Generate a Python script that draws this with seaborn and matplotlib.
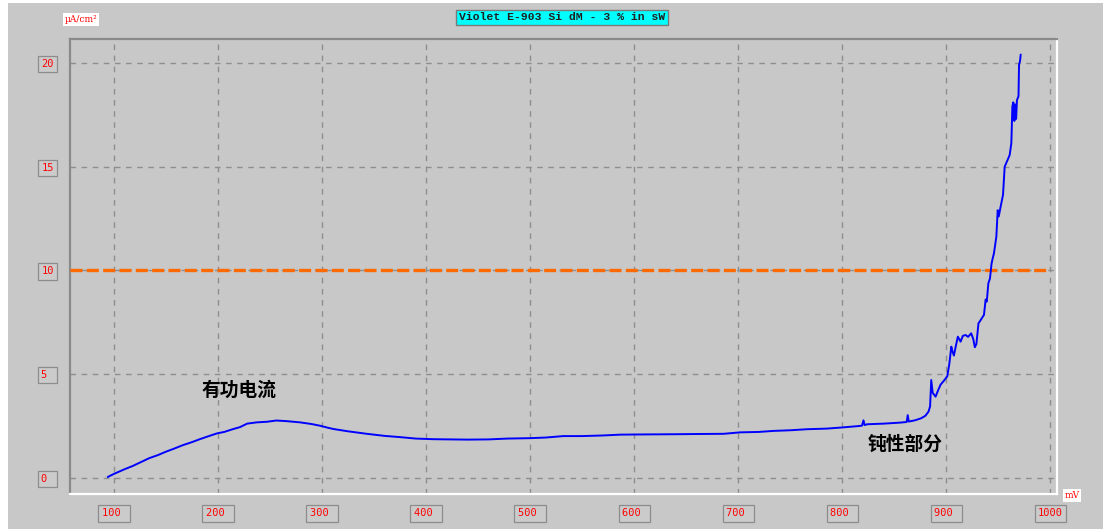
import numpy as np
import pandas as pd
import matplotlib
matplotlib.use("Agg")
import matplotlib.pyplot as plt
import seaborn as sns
from matplotlib.patches import Rectangle

# ---------------- data ----------------
voltage_mV = [94, 100, 110, 118, 126, 134, 142, 150, 158, 166, 175, 183, 190, 199, 206, 214,
              221, 228, 237, 247, 256, 266, 279, 290, 298, 305, 311, 325, 343, 360, 375, 390,
              407, 423, 440, 460, 478, 500, 515, 532, 550, 570, 587, 610, 640, 660, 686, 702,
              720, 734, 750, 766, 785, 801, 815, 819, 820.5, 821.5, 824, 840, 856, 862, 863,
              864, 870, 876, 880, 883, 884.5, 885.6, 887, 889.8, 892, 894.6, 898, 901, 903,
              904.9, 906, 907.4, 909, 911.2, 913.8, 916, 918.7, 921, 924, 926, 927.5, 929,
              931, 933, 936.3, 937.9, 939.0, 940.5, 942, 942.7, 943.5, 944.3, 945.9, 948.2,
              949.5, 950.5, 952.3, 954.6, 956.2, 958.8, 961, 962.6, 963.6, 964.5, 965.5,
              966.2, 967.2, 968, 969.5, 970, 971, 971.6]
current_uA = [0.05, 0.2, 0.42, 0.58, 0.77, 0.96, 1.1, 1.27, 1.42, 1.58, 1.73, 1.88, 2.0, 2.15,
              2.22, 2.35, 2.45, 2.62, 2.68, 2.71, 2.77, 2.74, 2.68, 2.6, 2.52, 2.43, 2.36,
              2.25, 2.13, 2.03, 1.97, 1.9, 1.87, 1.86, 1.85, 1.86, 1.9, 1.92, 1.95, 2.02,
              2.02, 2.05, 2.09, 2.1, 2.11, 2.12, 2.13, 2.2, 2.22, 2.27, 2.3, 2.35, 2.38,
              2.44, 2.5, 2.52, 2.78, 2.55, 2.59, 2.62, 2.67, 2.7, 3.03, 2.72, 2.78, 2.88,
              3.0, 3.2, 3.45, 4.72, 4.1, 3.92, 4.2, 4.5, 4.7, 4.9, 5.5, 6.33, 6.1, 5.9, 6.3,
              6.81, 6.57, 6.85, 6.89, 6.8, 6.97, 6.7, 6.3, 6.45, 7.45, 7.6, 7.86, 8.6, 8.5,
              9.38, 9.6, 9.9, 10.3, 10.5, 10.83, 11.63, 12.9, 12.6, 13.07, 13.64, 15.0,
              15.3, 15.56, 16.13, 17.9, 18.1, 17.2, 18.0, 17.3, 18.2, 18.4, 19.9, 20.1, 20.4]

x_ticks = [100, 200, 300, 400, 500, 600, 700, 800, 900, 1000]
y_ticks = [0, 5, 10, 15, 20]
x_tick_labels = ["100 ", "200 ", "300 ", "400 ", "500 ", "600 ", "700 ", "800 ", "900 ", "1000"]
y_tick_labels = ["0 ", "5 ", "10", "15", "20"]
limit_current = 10
limit_end_mV = 1000

title_text = "Violet E-903 Si dM - 3 % in sW"
y_unit = "µA/cm²"
x_unit = "mV"
label_active = "有功电流"
label_passive = "钝性部分"
label_active_pos = (220, 4.22)
label_passive_pos = (860, 1.61)

df = pd.DataFrame({"mV": voltage_mV, "uA": current_uA})

# ---------------- style ----------------
sns.set_style("white")
plt.rcParams['font.family'] = ['DejaVu Sans', 'Noto Sans CJK SC']

W, H = 1103, 529
BG = "#c8c8c8"
fig = plt.figure(figsize=(W / 100, H / 100), dpi=100, facecolor="white")
fig.patches.append(Rectangle((8 / W, 0), 1 - 8 / W, 1 - 3 / H, transform=fig.transFigure,
                             facecolor=BG, edgecolor="none", zorder=-10))

ax = fig.add_axes([70 / W, 1 - 494 / H, 987 / W, 455 / H])
ax.set_facecolor(BG)
ax.set_xlim(57.7, 1006.5)
ax.set_ylim(-0.77, 21.15)

# grid
ax.set_xticks(x_ticks)
ax.set_yticks(y_ticks)
ax.grid(True, color="#8e8e8e", linestyle=(0, (4, 4)), linewidth=1.0)
ax.set_axisbelow(True)

# spines (bevel look)
for side, col in (("left", "#8a8a8a"), ("top", "#8a8a8a"), ("right", "white"), ("bottom", "white")):
    ax.spines[side].set_visible(True)
    ax.spines[side].set_color(col)
    ax.spines[side].set_linewidth(1.6)

# data line
sns.lineplot(data=df, x="mV", y="uA", sort=False, estimator=None, color="#0000ff",
             linewidth=1.4, ax=ax, zorder=5)

# limit line
ax.hlines(limit_current, ax.get_xlim()[0], limit_end_mV, colors="#ff6a00",
          linewidth=2.4, linestyles=(0, (3.6, 1.3)), zorder=4)

# tick labels in boxes
box = dict(boxstyle="square,pad=0.3", facecolor="#cbcbcb", edgecolor="#8c8c8c", linewidth=0.9)
ax.set_xticklabels(x_tick_labels, family="DejaVu Sans Mono", fontsize=7.5, color="#ff0000")
ax.set_yticklabels(y_tick_labels, family="DejaVu Sans Mono", fontsize=7.5, color="#ff0000")
ax.tick_params(axis="x", length=0, pad=10.4)
ax.tick_params(axis="y", length=0, pad=11.6)
for lbl in ax.get_xticklabels() + ax.get_yticklabels():
    lbl.set_bbox(box)
ax.set_xlabel("")
ax.set_ylabel("")

# title box
fig.text(562 / W, 1 - 17.5 / H, title_text, ha="center", va="center",
         family="Liberation Mono", fontweight="bold", fontsize=8.2, color="#202020",
         bbox=dict(boxstyle="square,pad=0.25", facecolor="#00ffff", edgecolor="#7a7a7a", linewidth=1))

# unit labels
fig.text(81 / W, 1 - 19.5 / H, y_unit, ha="center", va="center", fontsize=6.5,
         family="DejaVu Serif", color="#ff0000",
         bbox=dict(boxstyle="square,pad=0.2", facecolor="white", edgecolor="none"))
fig.text(1072 / W, 1 - 495.5 / H, x_unit, ha="center", va="center", fontsize=6.5,
         family="DejaVu Serif", color="#ff0000",
         bbox=dict(boxstyle="square,pad=0.2", facecolor="white", edgecolor="none"))

# annotations
ax.text(*label_active_pos, label_active, ha="center", va="center", fontsize=13.5,
        fontweight="bold", family=["Noto Sans CJK SC", "DejaVu Sans"], color="black", zorder=6)
ax.text(*label_passive_pos, label_passive, ha="center", va="center", fontsize=13.5,
        fontweight="bold", family=["Noto Sans CJK SC", "DejaVu Sans"], color="black", zorder=6)

fig.savefig("out.png", dpi=100, facecolor=fig.get_facecolor())
